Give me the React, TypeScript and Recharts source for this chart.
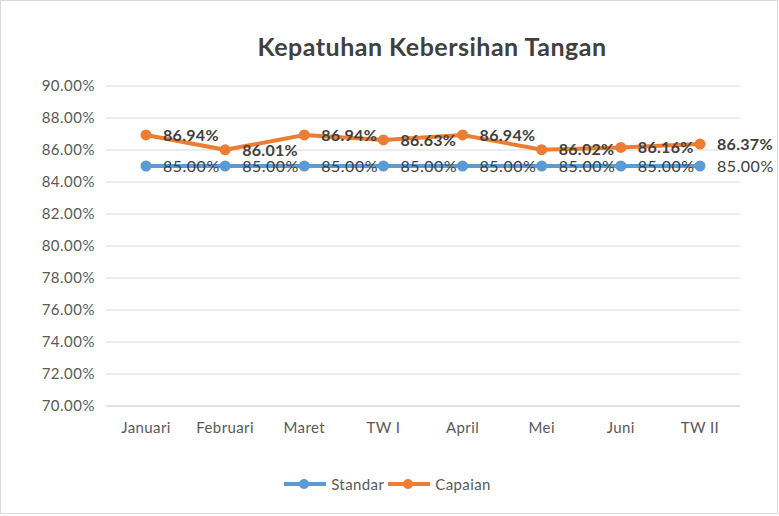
import React from 'react';
import { LineChart, Line, XAxis, YAxis, CartesianGrid, LabelList } from 'recharts';

const categories = ['Januari', 'Februari', 'Maret', 'TW I', 'April', 'Mei', 'Juni', 'TW II'];
const standar = [85.0, 85.0, 85.0, 85.0, 85.0, 85.0, 85.0, 85.0];
const capaian = [86.94, 86.01, 86.94, 86.63, 86.94, 86.02, 86.16, 86.37];
const yTicks = [70, 72, 74, 76, 78, 80, 82, 84, 86, 88, 90];

const data = categories.map((c, i) => ({ name: c, Standar: standar[i], Capaian: capaian[i] }));

const FONT = 'Lato, "Open Sans", sans-serif';
const fmt = (v: number) => `${Number(v).toFixed(2)}%`;

const BLUE = '#5B9BD5';
const ORANGE = '#ED7D31';

const LegendBox = () => (
  <div style={{ position: 'absolute', left: 0, top: 475, width: 779, display: 'flex', justifyContent: 'center', alignItems: 'center', fontFamily: FONT, fontSize: 15, letterSpacing: 0.4, color: '#595959' }}>
    {[{ n: 'Standar', c: BLUE }, { n: 'Capaian', c: ORANGE }].map((it) => (
      <div key={it.n} style={{ display: 'flex', alignItems: 'center', marginRight: 4 }}>
        <svg width={42} height={12} style={{ marginRight: 5 }}>
          <line x1={0} y1={6} x2={42} y2={6} stroke={it.c} strokeWidth={4} />
          <circle cx={20} cy={6} r={5} fill={it.c} />
        </svg>
        <span>{it.n}</span>
      </div>
    ))}
  </div>
);

export default function App() {
  return (
    <div style={{ position: 'absolute', left: 0, top: 0, width: 779, height: 516, background: '#fff' }}>
      <div style={{ position: 'absolute', left: 0, top: 0, width: 776, height: 512, border: '1px solid #D9D9D9' }} />
      <div style={{ position: 'absolute', left: 0, top: 31, width: 864, textAlign: 'center', fontFamily: FONT, fontWeight: 700, fontSize: 25, letterSpacing: 0.5, color: '#404040' }}>
        Kepatuhan Kebersihan Tangan
      </div>
      <div style={{ position: 'absolute', left: 0, top: 0 }}>
        <LineChart width={779} height={516} data={data} margin={{ top: 86, right: 39, bottom: 80, left: 0 }}>
          <CartesianGrid vertical={false} stroke="#D9D9D9" strokeWidth={1} />
          <XAxis
            dataKey="name"
            height={30}
            padding={{ left: 40, right: 40 }}
            axisLine={{ stroke: '#D9D9D9' }}
            tickLine={false}
            tick={{ fill: '#595959', fontSize: 15, fontFamily: FONT, letterSpacing: 0.4 }}
            tickMargin={10}
            interval={0}
          />
          <YAxis
            width={106}
            domain={[70, 90]}
            ticks={yTicks}
            tickFormatter={fmt}
            axisLine={false}
            tickLine={false}
            tickSize={0}
            tickMargin={11}
            tick={{ fill: '#595959', fontSize: 15, fontFamily: FONT, letterSpacing: 0.5 }}
          />
          <Line
            type="linear"
            dataKey="Standar"
            stroke={BLUE}
            strokeWidth={4}
            dot={{ r: 5.5, fill: BLUE, stroke: BLUE, strokeWidth: 0 }}
            isAnimationActive={false}
          >
            <LabelList dataKey="Standar" position="right" offset={17} formatter={fmt} style={{ fill: '#404040', fontSize: 16, letterSpacing: 0.5, fontFamily: FONT }} />
          </Line>
          <Line
            type="linear"
            dataKey="Capaian"
            stroke={ORANGE}
            strokeWidth={4}
            dot={{ r: 5.5, fill: ORANGE, stroke: ORANGE, strokeWidth: 0 }}
            isAnimationActive={false}
          >
            <LabelList dataKey="Capaian" position="right" offset={17} formatter={fmt} style={{ fill: '#404040', fontSize: 16, fontWeight: 700, letterSpacing: 0.3, fontFamily: FONT }} />
          </Line>
        </LineChart>
      </div>
      <LegendBox />
    </div>
  );
}
